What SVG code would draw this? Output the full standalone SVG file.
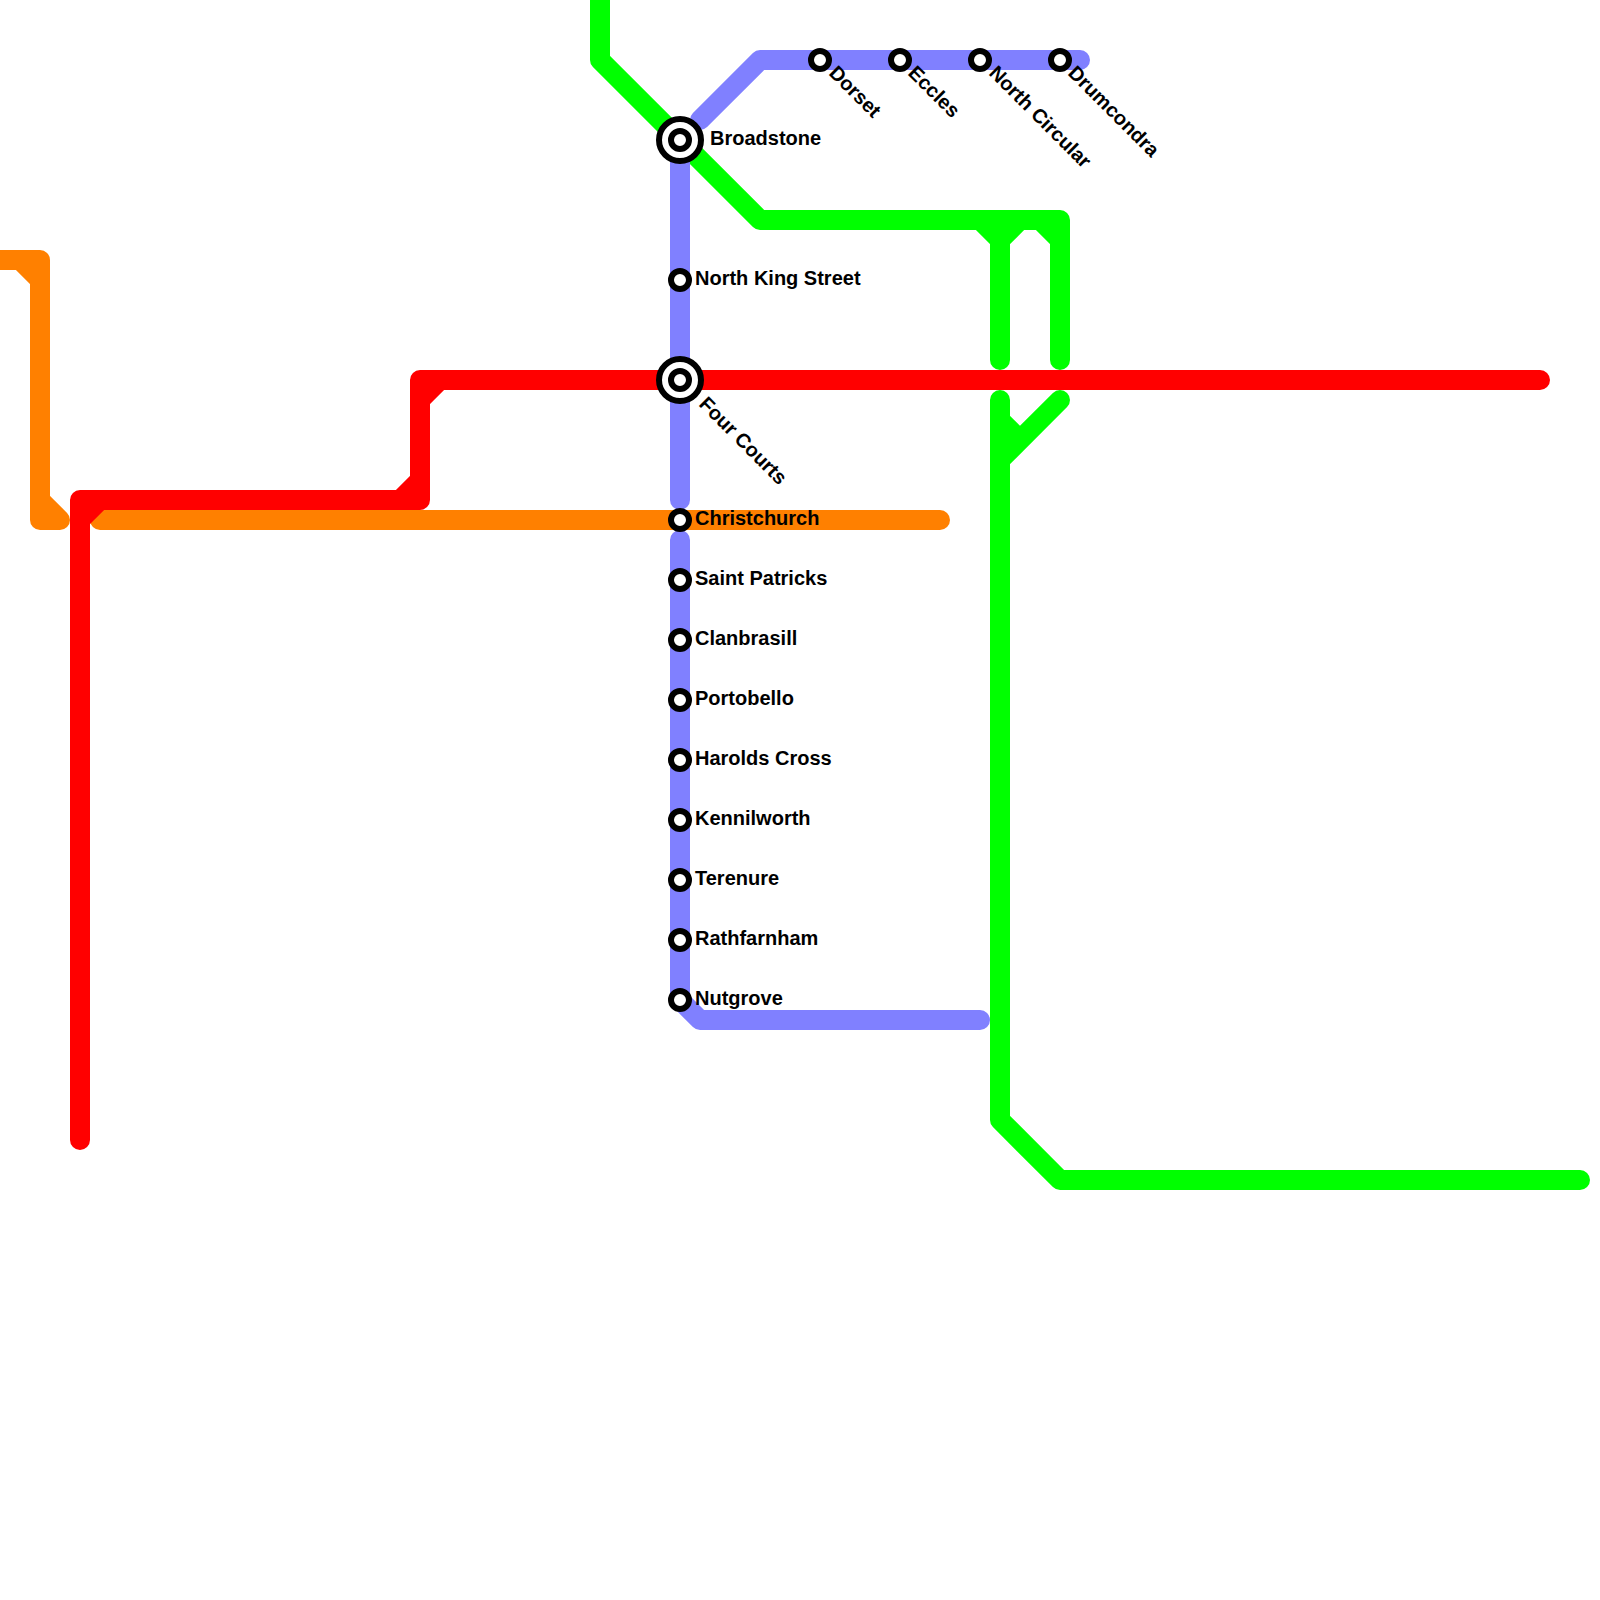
<svg xmlns="http://www.w3.org/2000/svg" width="1600" height="1600" viewBox="0 0 1600 1600">
<style>
.line{fill:none;stroke-width:20;stroke-linecap:round;stroke-linejoin:round}
.blue{stroke:#8080ff}.green{stroke:#00ff00}.red{stroke:#ff0000}.orange{stroke:#ff8000}
.ring{fill:#fff;stroke:#000;stroke-width:6}
.label{font-family:"Liberation Sans",Arial,sans-serif;font-weight:bold;font-size:20px;fill:#000}
</style>
<rect width="1600" height="1600" fill="#fff"/>
<g id="connectors">
<path class="line green" d="M600,-10V60L760,220H1060V360M980,220L1000,240V360M1020,220L1000,240M1040,220L1060,240"/>
<path class="line green" d="M1000,400V1120L1060,1180H1580M1060,400L1000,460M1000,420L1020,440"/>
<path class="line blue" d="M1080,60H760L700,120"/>
<path class="line blue" d="M680,140V500"/>
<path class="line blue" d="M680,540V1000L700,1020H980"/>
<path class="line orange" d="M-10,260H40V520H60L40,500M20,260L40,280"/>
<path class="line orange" d="M100,520H940"/>
<path class="line red" d="M1540,380H420V500H80V1140M400,500L420,480M420,400L440,380M80,520L100,500"/>
</g>
<g id="broadstone"><circle class="ring" cx="680" cy="140" r="21"/><circle class="ring" cx="680" cy="140" r="9"/><text class="label" x="710" y="145">Broadstone</text></g>
<g id="north-king-street"><circle class="ring" cx="680" cy="280" r="9"/><text class="label" x="695" y="285">North King Street</text></g>
<g id="four-courts"><circle class="ring" cx="680" cy="380" r="21"/><circle class="ring" cx="680" cy="380" r="9"/><text class="label" transform="translate(698,405) rotate(45)">Four Courts</text></g>
<g id="christchurch"><circle class="ring" cx="680" cy="520" r="9"/><text class="label" x="695" y="525">Christchurch</text></g>
<g id="saint-patricks"><circle class="ring" cx="680" cy="580" r="9"/><text class="label" x="695" y="585">Saint Patricks</text></g>
<g id="clanbrasill"><circle class="ring" cx="680" cy="640" r="9"/><text class="label" x="695" y="645">Clanbrasill</text></g>
<g id="portobello"><circle class="ring" cx="680" cy="700" r="9"/><text class="label" x="695" y="705">Portobello</text></g>
<g id="harolds-cross"><circle class="ring" cx="680" cy="760" r="9"/><text class="label" x="695" y="765">Harolds Cross</text></g>
<g id="kennilworth"><circle class="ring" cx="680" cy="820" r="9"/><text class="label" x="695" y="825">Kennilworth</text></g>
<g id="terenure"><circle class="ring" cx="680" cy="880" r="9"/><text class="label" x="695" y="885">Terenure</text></g>
<g id="rathfarnham"><circle class="ring" cx="680" cy="940" r="9"/><text class="label" x="695" y="945">Rathfarnham</text></g>
<g id="nutgrove"><circle class="ring" cx="680" cy="1000" r="9"/><text class="label" x="695" y="1005">Nutgrove</text></g>
<g id="dorset"><circle class="ring" cx="820" cy="60" r="9"/><text class="label" transform="translate(828,74) rotate(45)">Dorset</text></g>
<g id="eccles"><circle class="ring" cx="900" cy="60" r="9"/><text class="label" transform="translate(907,74) rotate(45)">Eccles</text></g>
<g id="north-circular"><circle class="ring" cx="980" cy="60" r="9"/><text class="label" transform="translate(988,74) rotate(45)">North Circular</text></g>
<g id="drumcondra"><circle class="ring" cx="1060" cy="60" r="9"/><text class="label" transform="translate(1067,74) rotate(45)">Drumcondra</text></g>
</svg>
